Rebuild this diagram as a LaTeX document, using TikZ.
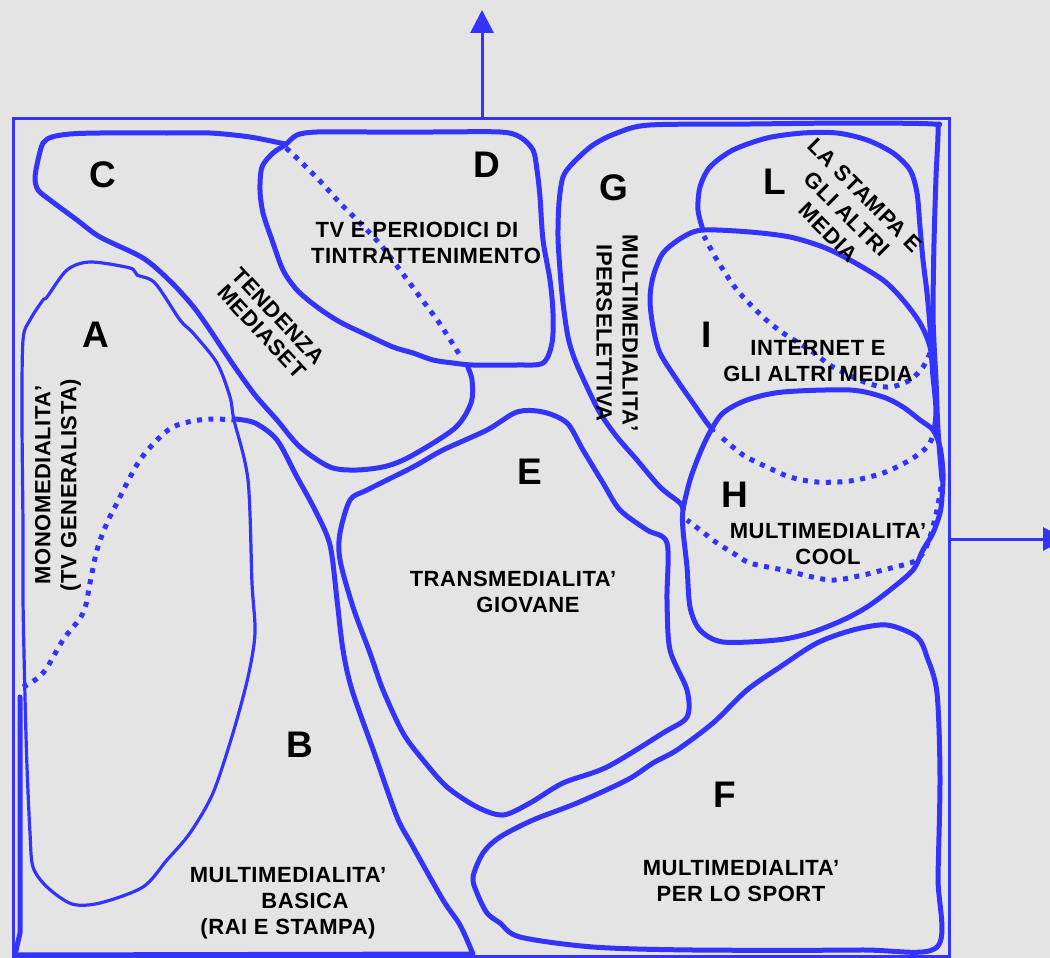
\documentclass[tikz,border=0pt]{standalone}
\usepackage{fontspec}
\setmainfont{Liberation Sans}
\newfontfamily\lblfont[LetterSpace=2.5]{Liberation Sans}
\usetikzlibrary{arrows.meta}
\definecolor{blu}{RGB}{51,51,252}
\definecolor{paper}{RGB}{228,228,228}

\begin{document}
\begin{tikzpicture}[x=1pt,y=-1pt,
  region/.style={draw=blu, line width=5pt, line join=round, line cap=round},
  thinregion/.style={draw=blu, line width=3.2pt, line join=round},
  hidden/.style={draw=blu, line width=5pt, dash pattern=on 5pt off 6.5pt},
  frameline/.style={draw=blu, line width=3pt},
  axis/.style={draw=blu, line width=3pt, -{Triangle[width=23pt,length=23pt]}},
  letter/.style={font=\fontsize{37}{40}\selectfont\bfseries, inner sep=0pt},
  caption/.style={font=\lblfont\fontsize{22}{26}\selectfont\bfseries, align=center, inner sep=0pt}]

\useasboundingbox (0,0) rectangle (1050,958);
\fill[paper] (0,0) rectangle (1050,958);

% frame and axes
\draw[frameline] (13,118) rectangle (949,956);
\coordinate (yfoot) at (482,118);
\coordinate (ytip) at (482,10);
\coordinate (xfoot) at (949,539);
\coordinate (xtip) at (1066,539);
\draw[axis] (yfoot) -- (ytip);
\draw[axis] (xfoot) -- (xtip);

% A: monomedialita'
\draw[thinregion] plot[smooth cycle, tension=0.5] coordinates {
  (25,697) (23,600) (23,527) (22,417) (23,340) (30,320) (43,300) (47,297)
  (67,270) (90,262) (130,268) (137,275) (155,283) (180,320) (193,333)
  (217,363) (230,397) (234,420) (248,480) (252,583) (255,633) (248,677)
  (233,733) (213,793) (190,833) (167,860) (143,887) (100,903) (72,904)
  (47,887) (33,867) (30,833) (27,767)};

% B: multimedialita' basica
\draw[hidden] plot[smooth, tension=0.6] coordinates {
  (23,687) (43,673) (63,640) (83,613) (90,583) (97,550) (107,523) (117,503)
  (127,483) (140,460) (157,440) (173,427) (193,421) (213,419) (233,420)};
\draw[region] plot[smooth, tension=0.5] coordinates {
  (235,419) (255,423) (277,440) (297,477) (315,510) (330,545) (337,600)
  (343,650) (352,690) (375,755) (397,817) (412,845) (443,900) (460,925)
  (473,954)}
  -- (15,955) -- (20,933) -- (20,697);

% C: tendenza Mediaset
\draw[region] plot[smooth, tension=0.5] coordinates {
  (467,365) (472,380) (471,403) (455,428) (413,455) (387,466) (357,470)
  (330,467) (300,447) (277,420) (255,395) (232,363) (208,327) (192,305)
  (170,281) (143,258) (100,237) (77,220) (50,200) (38,190) (35,178)
  (38,160) (43,143) (52,137) (70,134) (100,133) (167,133) (210,133)
  (250,137) (285,144)};
\draw[hidden] plot[smooth, tension=0.5] coordinates {
  (286,148) (300,161) (320,181) (340,203) (360,223) (380,244) (400,270)
  (420,297) (440,324) (461,357)};

% D: TV e periodici di intrattenimento
\draw[region] plot[smooth cycle, tension=0.5] coordinates {
  (285,145) (297,135) (317,132) (367,132) (433,132) (500,132) (520,137)
  (533,150) (537,170) (540,197) (543,240) (550,280) (553,313) (552,343)
  (543,363) (517,365) (473,365) (453,363) (433,360) (413,353) (393,347)
  (367,335) (340,322) (317,307) (297,290) (283,270) (272,240) (263,213)
  (260,190) (262,167) (273,153)};

% E: transmedialita' giovane
\draw[region] plot[smooth cycle, tension=0.5] coordinates {
  (350,500) (367,490) (413,467) (443,450) (487,430) (517,412) (543,412)
  (567,423) (583,450) (603,483) (620,510) (647,530) (667,543) (667,600)
  (670,650) (687,690) (687,717) (663,733) (607,767) (563,783) (530,803)
  (503,815) (477,807) (447,787) (423,760) (403,733) (383,690) (370,653)
  (353,607) (340,560) (340,533)};

% F: multimedialita' per lo sport
\draw[region] plot[smooth cycle, tension=0.5] coordinates {
  (473,877) (483,853) (500,837) (533,820) (577,803) (627,780) (653,763)
  (677,750) (713,723) (747,690) (780,667) (817,643) (853,630) (887,625)
  (917,637) (927,657) (937,693) (940,777) (938,877) (937,947) (860,950)
  (693,950) (593,947) (520,937) (500,923) (487,913) (477,893)};

% G: multimedialita' iperselettiva
\draw[region] plot[smooth, tension=0.5] coordinates {
  (683,510) (680,503) (660,487) (637,460) (617,437) (600,413) (587,387)
  (575,360) (568,337) (563,303) (560,270) (558,237) (559,203) (563,177)
  (573,163) (593,145) (617,133) (650,125) (750,124) (850,123) (933,124)
  (938,129) (936,177) (934,243) (933,310) (934,343) (936,380) (938,430)
  (942,480)};
\draw[hidden] plot[smooth, tension=0.5] coordinates {
  (941,487) (937,510) (930,537) (923,553) (913,562) (883,570) (863,575)
  (830,580) (783,570) (750,563) (733,553) (717,543) (700,530) (687,520)};

% H: multimedialita' cool
\draw[region] plot[smooth cycle, tension=0.5] coordinates {
  (710,432) (723,413) (747,400) (783,392) (850,390) (883,397) (903,407)
  (920,420) (933,430) (940,447) (943,473) (942,497) (940,513) (933,533)
  (923,550) (913,570) (890,590) (867,607) (843,620) (810,633) (777,640)
  (723,642) (700,630) (690,607) (687,567) (683,530) (683,510) (690,480)
  (700,453)};

% I: internet e gli altri media
\draw[region] plot[smooth, tension=0.5] coordinates {
  (713,430) (707,423) (693,403) (677,380) (660,353) (653,327) (650,300)
  (653,277) (663,253) (683,237) (703,230) (750,232) (790,237) (823,247)
  (850,260) (883,280) (903,300) (920,323) (930,347) (933,377) (936,410)
  (934,432)};
\draw[hidden] plot[smooth, tension=0.5] coordinates {
  (932,438) (927,447) (910,460) (883,473) (850,481) (817,482) (790,477)
  (767,467) (743,455) (720,436)};

% L: la stampa e gli altri media
\draw[region] plot[smooth, tension=0.5] coordinates {
  (703,230) (698,210) (700,187) (710,167) (733,150) (767,138) (803,133)
  (837,133) (867,140) (893,153) (910,170) (917,193) (920,227) (923,260)
  (927,293) (930,327) (930,345)};
\draw[hidden] plot[smooth, tension=0.5] coordinates {
  (930,353) (923,367) (910,380) (890,387) (867,383) (833,367) (810,350)
  (783,333) (763,317) (737,290) (717,260) (704,236)};

% region letters
\node[letter] (lA) at (96,335) {A};
\node[letter] (lB) at (300,745) {B};
\node[letter] (lC) at (103,175) {C};
\node[letter] (lD) at (487,165) {D};
\node[letter] (lE) at (530,472) {E};
\node[letter] (lF) at (725,795) {F};
\node[letter] (lG) at (614,188) {G};
\node[letter] (lH) at (735,495) {H};
\node[letter] (lI) at (707,335) {I};
\node[letter] (lL) at (775,182) {L};

% region captions
\node[caption, rotate=90] (tA) at (58,485) {MONOMEDIALITA’\\(TV GENERALISTA)};
\node[caption] (tB) at (288,903) {MULTIMEDIALITA’\\\hspace*{34pt}BASICA\\(RAI E STAMPA)};
\node[caption, rotate=-47, font=\lblfont\fontsize{22}{23}\selectfont\bfseries] (tC) at (270,324) {TENDENZA\\MEDIASET};
\node[caption] (tD) at (417,243) {TV E PERIODICI DI\\\hspace*{18pt}TINTRATTENIMENTO};
\node[caption] (tE) at (513,592) {TRANSMEDIALITA’\\\hspace*{30pt}GIOVANE};
\node[caption] (tF) at (741,881) {MULTIMEDIALITA’\\PER LO SPORT};
\node[caption, rotate=-90] (tG) at (617,333) {MULTIMEDIALITA’\\IPERSELETTIVA};
\node[caption] (tH) at (828,544) {MULTIMEDIALITA’\\COOL};
\node[caption] (tI) at (818,361) {INTERNET E\\GLI ALTRI MEDIA};
\node[caption, rotate=-45] (tL) at (847,214) {LA STAMPA E\\GLI ALTRI\\MEDIA};

\end{tikzpicture}
\end{document}
